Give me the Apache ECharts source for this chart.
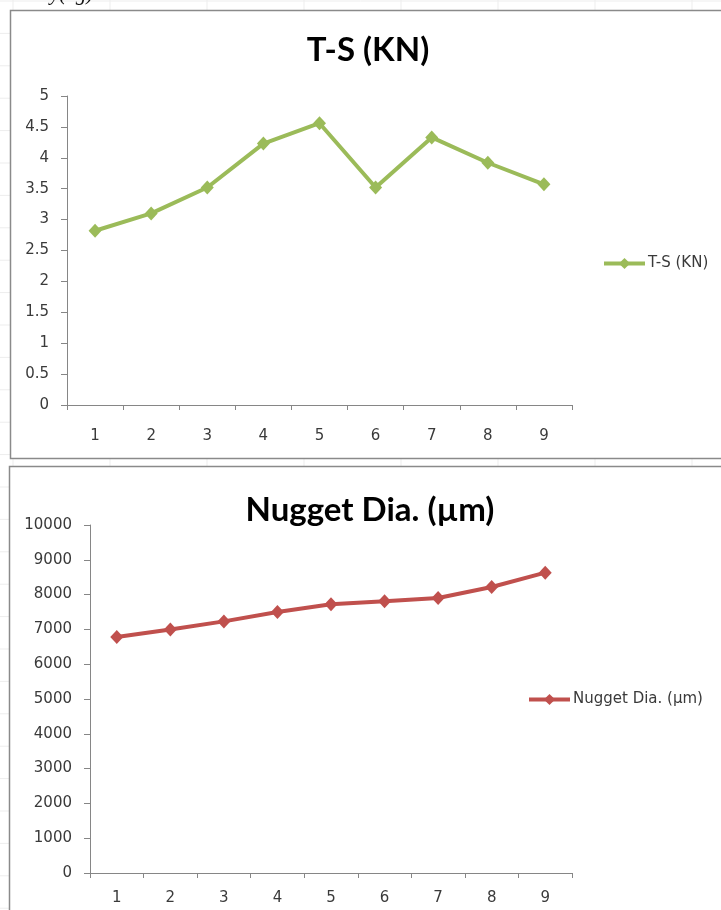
<!DOCTYPE html>
<html>
<head>
<meta charset="utf-8">
<script src="https://cdn.jsdelivr.net/npm/echarts@6/dist/echarts.min.js"></script>
<style>
  html, body { margin: 0; padding: 0; background: #ffffff; }
  #chart { width: 721px; height: 910px; }
</style>
</head>
<body>
<div id="chart"></div>
<script>
// Sample numbers on the horizontal axis
const samples = ['1', '2', '3', '4', '5', '6', '7', '8', '9'];
// Tensile-shear load per sample (kN)
const tensileShear = [2.82, 3.10, 3.52, 4.23, 4.56, 3.52, 4.33, 3.92, 3.57];
// Nugget diameter per sample (µm)
const nuggetDia = [6780, 7000, 7230, 7500, 7720, 7810, 7900, 8220, 8630];

// Value axis ranges
const tsAxis = { min: 0, max: 5, interval: 0.5 };
const diaAxis = { min: 0, max: 10000, interval: 1000 };

const tsName = 'T-S (KN)';
const diaName = 'Nugget Dia. (µm)';

const axisGray = '#868686';
const labelGray = '#3a3a3a';
const tickFont = 'DejaVu Sans';
const titleFont = 'Lato';

// faint sheet gridlines behind the two chart boxes
const sheetLines = [];
for (let x = 13; x < 721; x += 97) {
  sheetLines.push({ type: 'line', z: -100, shape: { x1: x, y1: 0, x2: x, y2: 910 },
    style: { stroke: '#ededed', lineWidth: 1 } });
}
for (let y = 1; y < 910; y += 32.4) {
  sheetLines.push({ type: 'line', z: -100, shape: { x1: 0, y1: y, x2: 721, y2: y },
    style: { stroke: '#ededed', lineWidth: 1 } });
}

const chart = echarts.init(document.getElementById('chart'), null, { renderer: 'canvas' });

function catAxis(gridIndex, margin) {
  return {
    type: 'category', gridIndex, data: samples, boundaryGap: true,
    axisLine: { lineStyle: { color: axisGray, width: 1 } },
    axisTick: { show: true, length: 5, lineStyle: { color: axisGray } },
    axisLabel: { margin, fontFamily: tickFont, fontSize: 15, color: labelGray },
    splitLine: { show: false }, z: 5
  };
}
function valAxis(gridIndex, range) {
  return {
    type: 'value', gridIndex, min: range.min, max: range.max, interval: range.interval,
    axisLine: { show: true, lineStyle: { color: axisGray, width: 1 } },
    axisTick: { show: true, length: 6, lineStyle: { color: axisGray } },
    axisLabel: { margin: 18, fontFamily: tickFont, fontSize: 15, color: labelGray,
      formatter: (v) => String(v) },
    splitLine: { show: false }, z: 5
  };
}

function legendAt(name, left, top) {
  return {
    data: [name], left, top, padding: 0, itemWidth: 41, itemHeight: 14, itemGap: 0,
    lineStyle: { width: 4 },
    textStyle: { fontFamily: tickFont, fontSize: 15, color: labelGray, padding: [0, 0, 0, -2] }
  };
}

chart.setOption({
  animation: false,
  backgroundColor: '#ffffff',
  graphic: {
    elements: sheetLines.concat([
      { type: 'text', z: -50, x: 50, y: 5,
        style: { text: 'y(kg)', font: 'italic 21px "Liberation Serif"', fill: '#111',
          textVerticalAlign: 'bottom' } },
      { type: 'rect', z: -90, shape: { x: 10.5, y: 10.5, width: 730, height: 448 },
        style: { fill: '#ffffff', stroke: '#8a8a8a', lineWidth: 1.5 } },
      { type: 'rect', z: -90, shape: { x: 9.5, y: 466.5, width: 730, height: 470 },
        style: { fill: '#ffffff', stroke: '#8a8a8a', lineWidth: 1.5 } },
      { type: 'text', z: 50, x: 368, y: 50,
        style: { text: tsName, font: 'bold 33px ' + titleFont, fill: '#000',
          textAlign: 'center', textVerticalAlign: 'middle' } },
      { type: 'text', z: 50, x: 370, y: 510,
        style: { text: diaName, font: 'bold 33px ' + titleFont, fill: '#000',
          textAlign: 'center', textVerticalAlign: 'middle' } }
    ])
  },
  legend: [legendAt(tsName, 602, 256), legendAt(diaName, 527, 692)],
  grid: [
    { left: 67, top: 96, width: 505, height: 309 },
    { left: 90, top: 525, width: 482, height: 348 }
  ],
  xAxis: [catAxis(0, 24), catAxis(1, 18)],
  yAxis: [valAxis(0, tsAxis), valAxis(1, diaAxis)],
  series: [
    { name: tsName, type: 'line', xAxisIndex: 0, yAxisIndex: 0, data: tensileShear,
      symbol: 'diamond', symbolSize: [13, 14], showAllSymbol: true,
      lineStyle: { color: '#9BBB59', width: 4 }, itemStyle: { color: '#9BBB59' } },
    { name: diaName, type: 'line', xAxisIndex: 1, yAxisIndex: 1, data: nuggetDia,
      symbol: 'diamond', symbolSize: [13, 14], showAllSymbol: true,
      lineStyle: { color: '#C0504D', width: 4 }, itemStyle: { color: '#C0504D' } }
  ]
});
</script>
</body>
</html>
